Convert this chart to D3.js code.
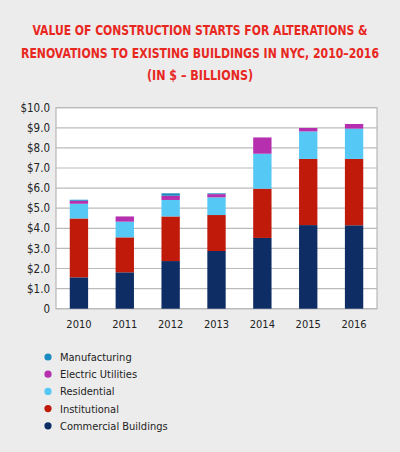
<!DOCTYPE html><html><head><meta charset="utf-8">
<script src="https://cdn.jsdelivr.net/npm/d3@7"></script>
<style>body{margin:0;background:#ececec}svg{display:block}</style></head><body>
<svg id="c" width="400" height="452"></svg>
<script>
const years=["2010","2011","2012","2013","2014","2015","2016"];
const commercial=[1.56,1.81,2.37,2.87,3.52,4.16,4.15];
const institutional=[2.93,1.74,2.22,1.79,2.45,3.29,3.30];
const residential=[0.73,0.78,0.82,0.88,1.74,1.37,1.51];
const electric=[0.15,0.26,0.21,0.16,0.81,0.17,0.23];
const manufacturing=[0.05,0.0,0.12,0.04,0.0,0.0,0.0];
const yTicks=[0,1,2,3,4,5,6,7,8,9,10];
const seriesNames=["Commercial Buildings","Institutional","Residential","Electric Utilities","Manufacturing"];
const seriesVals=[commercial,institutional,residential,electric,manufacturing];
const colors=["#0d2d64","#c01a0a","#55c8f5","#b52fae","#1a8ac0"];
const svg=d3.select("#c");
const title=["VALUE OF CONSTRUCTION STARTS FOR ALTERATIONS &","RENOVATIONS TO EXISTING BUILDINGS IN NYC, 2010–2016","(IN $ – BILLIONS)"];
svg.selectAll(".t").data(title).enter().append("text").attr("x",200).attr("y",(d,i)=>35+i*22.5)
 .attr("text-anchor","middle").attr("fill","#e8281f").attr("font-family","DejaVu Sans Condensed, DejaVu Sans").attr("font-stretch","condensed")
 .attr("font-weight","bold").attr("font-size",13.5).attr("textLength",(d,i)=>[335,358,106][i]).attr("lengthAdjust","spacingAndGlyphs").text(d=>d);
const x=d3.scaleBand().domain(years).range([56,377]).paddingInner(0.6).paddingOuter(0.3);
const y=d3.scaleLinear().domain([0,10]).range([308.7,107.7]);
svg.append("rect").attr("x",56).attr("y",107.7).attr("width",321).attr("height",201).attr("fill","#fff").attr("stroke","#aaa");
svg.append("g").selectAll("line").data(yTicks).enter().append("line").attr("x1",56).attr("x2",377)
 .attr("y1",d=>y(d)).attr("y2",d=>y(d)).attr("stroke","#bbb").attr("stroke-width",1.2);
const ya=svg.append("g").attr("transform","translate(56,0)").call(d3.axisLeft(y).tickValues(yTicks).tickSize(0).tickPadding(6).tickFormat(d=>d===0?"0":"$"+d.toFixed(1)));
ya.select(".domain").remove();
ya.selectAll("text").attr("font-family","DejaVu Sans Condensed, DejaVu Sans").attr("font-stretch","condensed").attr("font-size",11.5).attr("fill","#222");
const xa=svg.append("g").attr("transform","translate(0,308.7)").call(d3.axisBottom(x).tickSize(0).tickPadding(12));
xa.select(".domain").remove();
xa.selectAll("text").attr("font-family","DejaVu Sans Condensed, DejaVu Sans").attr("font-stretch","condensed").attr("font-size",11).attr("fill","#222");
const table=years.map((yr,i)=>{const o={year:yr};seriesNames.forEach((n,j)=>o[n]=seriesVals[j][i]);return o;});
const stack=d3.stack().keys(seriesNames)(table);
svg.append("g").selectAll("g").data(stack).enter().append("g").attr("fill",(d,i)=>colors[i])
 .selectAll("rect").data(d=>d).enter().append("rect").attr("x",d=>x(d.data.year)).attr("width",x.bandwidth())
 .attr("y",d=>y(d[1])).attr("height",d=>y(d[0])-y(d[1]));
const leg=[...seriesNames].reverse(), legC=[...colors].reverse();
const lg=svg.append("g").selectAll("g").data(leg).enter().append("g").attr("transform",(d,i)=>`translate(48,${357+i*17.2})`);
lg.append("circle").attr("r",3.6).attr("fill",(d,i)=>legC[i]);
lg.append("text").attr("x",12).attr("y",4).attr("font-family","DejaVu Sans Condensed, DejaVu Sans").attr("font-stretch","condensed")
 .attr("font-size",11).attr("fill","#222").text(d=>d);
</script></body></html>
